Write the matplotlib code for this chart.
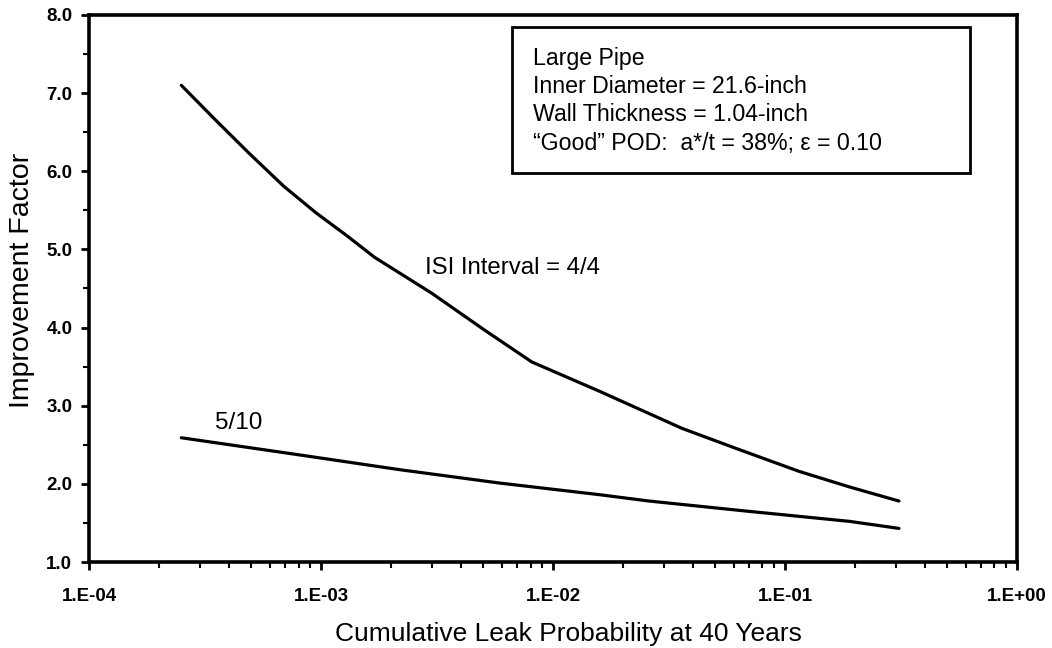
import matplotlib
matplotlib.use("Agg")
import matplotlib.pyplot as plt
from matplotlib.patches import Rectangle
from matplotlib.ticker import LogLocator, FixedLocator, NullFormatter

plt.rcParams['font.family'] = ['Liberation Sans', 'DejaVu Sans']

# Improvement factor vs. cumulative leak probability at 40 years
leak_prob_44 = [2.5e-4, 3.5e-4, 4.9e-4, 6.9e-4, 9.5e-4, 1.3e-3, 1.7e-3, 3.0e-3,
                5.0e-3, 8.1e-3, 1.6e-2, 3.6e-2, 6.2e-2, 0.115, 0.19, 0.31]
factor_44 = [7.10, 6.66, 6.23, 5.81, 5.47, 5.17, 4.90, 4.44,
             3.98, 3.56, 3.18, 2.71, 2.45, 2.16, 1.96, 1.78]

leak_prob_510 = [2.5e-4, 8.1e-4, 2.2e-3, 5.9e-3, 1.6e-2, 2.6e-2, 6.9e-2, 0.19, 0.31]
factor_510 = [2.59, 2.37, 2.18, 2.01, 1.86, 1.78, 1.65, 1.52, 1.43]

x_ticks = [1e-4, 1e-3, 1e-2, 1e-1, 1e0]
x_labels = ["1.E-04", "1.E-03", "1.E-02", "1.E-01", "1.E+00"]
y_ticks = [1.0, 2.0, 3.0, 4.0, 5.0, 6.0, 7.0, 8.0]
y_labels = ["1.0", "2.0", "3.0", "4.0", "5.0", "6.0", "7.0", "8.0"]

info_lines = [
    "Large Pipe",
    "Inner Diameter = 21.6-inch",
    "Wall Thickness = 1.04-inch",
    "\u201cGood\u201d POD:  a*/t = 38%; \u03b5 = 0.10",
]

fig = plt.figure(figsize=(10.52, 6.48), dpi=100)
ax = fig.add_axes([0.0846, 0.1327, 0.8821, 0.8442])

for xs, ys in ((leak_prob_44, factor_44), (leak_prob_510, factor_510)):
    ax.plot(xs, ys, color='black', lw=2.3,
            solid_capstyle='round', solid_joinstyle='round')

ax.set_xscale('log')
ax.set_xlim(1e-4, 1e0)
ax.set_ylim(1.0, 8.0)

ax.xaxis.set_major_locator(FixedLocator(x_ticks))
ax.set_xticklabels(x_labels)
ax.xaxis.set_minor_locator(LogLocator(base=10, subs=range(2, 10)))
ax.xaxis.set_minor_formatter(NullFormatter())
ax.set_yticks(y_ticks)
ax.set_yticklabels(y_labels)
ax.yaxis.set_minor_locator(FixedLocator([1.5, 2.5, 3.5, 4.5, 5.5, 6.5, 7.5]))

for lab in ax.get_xticklabels() + ax.get_yticklabels():
    lab.set_fontweight('bold')
    lab.set_fontsize(13.5)

ax.tick_params(axis='both', which='major', direction='out', length=6, width=2,
               top=False, right=False)
ax.tick_params(axis='both', which='minor', direction='out', length=4, width=1.5,
               top=False, right=False)
ax.tick_params(axis='x', which='major', pad=13)
ax.tick_params(axis='y', which='major', pad=6)

for sp in ax.spines.values():
    sp.set_linewidth(2.6)

fig.text(568 / 1052, 1 - 634 / 648, "Cumulative Leak Probability at 40 Years",
         fontsize=19, ha='center', va='center')
fig.text(22 / 1052, 1 - 280 / 648, "Improvement Factor",
         fontsize=20.5, ha='center', va='center', rotation=90)

ax.text(0.362, 0.537, "ISI Interval = 4/4", transform=ax.transAxes,
        fontsize=17.3, va='center', ha='left')
ax.text(0.136, 0.254, "5/10", transform=ax.transAxes,
        fontsize=17.5, va='center', ha='left')

box = Rectangle((0.456, 0.711), 0.493, 0.267, transform=ax.transAxes,
                fill=False, edgecolor='black', lw=2.0)
ax.add_patch(box)
for i, line in enumerate(info_lines):
    ax.text(0.478, 0.921 - i * 0.0517, line, transform=ax.transAxes,
            fontsize=16.7, va='center', ha='left')

fig.savefig("out.png", dpi=100)
